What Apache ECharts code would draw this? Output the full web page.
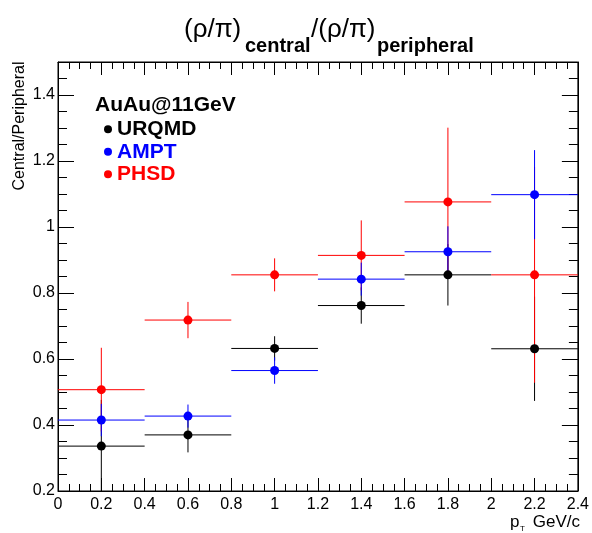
<!DOCTYPE html>
<html>
<head>
<meta charset="utf-8">
<script src="https://cdn.jsdelivr.net/npm/echarts@6/dist/echarts.min.js"></script>
<style>html,body{margin:0;padding:0;background:#fff;}#c{width:592px;height:533px;}</style>
</head>
<body>
<div id="c"></div>
<script>
// ---- data ----
const ptBins = [0.2, 0.6, 1.0, 1.4, 1.8, 2.2];
const ptHalfWidth = [0.2, 0.2, 0.2, 0.2, 0.2, 0.2];
const urqmdVals = [0.336, 0.370, 0.632, 0.762, 0.855, 0.631];
const urqmdErr  = [0.140, 0.053, 0.037, 0.055, 0.093, 0.158];
const amptVals  = [0.415, 0.427, 0.565, 0.842, 0.925, 1.098];
const amptErr   = [0.049, 0.035, 0.040, 0.050, 0.077, 0.135];
const phsdVals  = [0.507, 0.718, 0.855, 0.914, 1.076, 0.855];
const phsdErr   = [0.127, 0.055, 0.050, 0.106, 0.225, 0.327];
const xTicks = [0, 0.2, 0.4, 0.6, 0.8, 1, 1.2, 1.4, 1.6, 1.8, 2, 2.2, 2.4];
const yTicks = [0.2, 0.4, 0.6, 0.8, 1, 1.2, 1.4];

const FONT = '"Liberation Sans", Arial, Helvetica, sans-serif';
const models = [
  {name: 'URQMD', color: '#000000', vals: urqmdVals, err: urqmdErr},
  {name: 'PHSD',  color: '#ff0000', vals: phsdVals,  err: phsdErr},
  {name: 'AMPT',  color: '#0000ff', vals: amptVals,  err: amptErr}
];

function errSeries(m, idx) {
  const data = ptBins.map((x, i) => [x, m.vals[i], ptHalfWidth[i], m.err[i]]);
  return {
    type: 'custom', name: m.name + ' err', xAxisIndex: 0, yAxisIndex: 0,
    z: 2 + idx, silent: true, clip: true,
    renderItem: function (params, api) {
      const x = api.value(0), y = api.value(1), ex = api.value(2), ey = api.value(3);
      const l = api.coord([x - ex, y]), r = api.coord([x + ex, y]);
      const t = api.coord([x, y + ey]), b = api.coord([x, y - ey]);
      const st = {stroke: m.color, lineWidth: 1};
      return {type: 'group', children: [
        {type: 'line', shape: {x1: l[0], y1: l[1], x2: r[0], y2: r[1]}, style: st},
        {type: 'line', shape: {x1: t[0], y1: t[1], x2: b[0], y2: b[1]}, style: st}
      ]};
    },
    data: data
  };
}
function markSeries(m) {
  return {
    type: 'scatter', name: m.name, xAxisIndex: 0, yAxisIndex: 0, z: 10,
    symbol: 'circle', symbolSize: 9, itemStyle: {color: m.color, opacity: 1},
    data: ptBins.map((x, i) => [x, m.vals[i]])
  };
}

const series = [];
models.forEach((m, i) => series.push(errSeries(m, i)));
models.forEach(m => series.push(markSeries(m)));

const axLine = {show: true, lineStyle: {color: '#000', width: 1}};
const xBase = {type: 'value', min: 0, max: 2.4, interval: 0.2, splitLine: {show: false}};
const yBase = {type: 'value', min: 0.2, max: 1.5, splitLine: {show: false}};

const option = {
  animation: false,
  backgroundColor: '#fff',
  grid: {left: 58, right: 14, top: 62, bottom: 42, show: true, borderColor: '#000', borderWidth: 1},
  xAxis: [
    Object.assign({}, xBase, {position: 'bottom', axisLine: axLine,
      axisTick: {inside: true, length: 13, lineStyle: {color: '#000'}},
      minorTick: {show: true, splitNumber: 4, length: 7, lineStyle: {color: '#000'}},
      axisLabel: {margin: 6, fontSize: 16, fontFamily: FONT, color: '#000',
        formatter: v => { const k = xTicks.find(t => Math.abs(t - v) < 1e-6); return k === undefined ? '' : String(k); }}}),
    Object.assign({}, xBase, {position: 'top', axisLine: axLine,
      axisTick: {inside: true, length: 13, lineStyle: {color: '#000'}},
      minorTick: {show: true, splitNumber: 4, length: 7, lineStyle: {color: '#000'}},
      axisLabel: {show: false}})
  ],
  yAxis: [
    Object.assign({}, yBase, {position: 'left', interval: 0.2, axisLine: axLine,
      axisTick: {inside: true, length: 16, lineStyle: {color: '#000'}},
      axisLabel: {margin: 3, fontSize: 16, fontFamily: FONT, color: '#000',
        formatter: v => { const k = yTicks.find(t => Math.abs(t - v) < 1e-6); return k === undefined ? '' : String(k); }}}),
    Object.assign({}, yBase, {position: 'left', interval: 0.05, axisLine: {show: false},
      axisTick: {inside: true, length: 9, lineStyle: {color: '#000'}}, axisLabel: {show: false}}),
    Object.assign({}, yBase, {position: 'right', interval: 0.2, axisLine: axLine,
      axisTick: {inside: true, length: 16, lineStyle: {color: '#000'}}, axisLabel: {show: false}}),
    Object.assign({}, yBase, {position: 'right', interval: 0.05, axisLine: {show: false},
      axisTick: {inside: true, length: 9, lineStyle: {color: '#000'}}, axisLabel: {show: false}})
  ],
  legend: {
    orient: 'vertical', left: 99, top: 113, itemWidth: 8, itemHeight: 8, itemGap: 0,
    icon: 'circle', selectedMode: false,
    textStyle: {fontSize: 21, lineHeight: 22.5, fontWeight: 'bold', fontFamily: FONT},
    data: [
      {name: 'URQMD', textStyle: {color: '#000000'}},
      {name: 'AMPT', textStyle: {color: '#0000ff'}},
      {name: 'PHSD', textStyle: {color: '#ff0000'}}
    ]
  },
  graphic: [
    {type: 'text', x: 184, y: 30, style: {text: '(ρ/π)', font: '26px ' + FONT, fill: '#000', textAlign: 'left', textVerticalAlign: 'middle'}},
    {type: 'text', x: 245, y: 46, style: {text: 'central', font: 'bold 20px ' + FONT, fill: '#000', textAlign: 'left', textVerticalAlign: 'middle'}},
    {type: 'text', x: 311, y: 30, style: {text: '/(ρ/π)', font: '26px ' + FONT, fill: '#000', textAlign: 'left', textVerticalAlign: 'middle'}},
    {type: 'text', x: 377, y: 46, style: {text: 'peripheral', font: 'bold 20px ' + FONT, fill: '#000', textAlign: 'left', textVerticalAlign: 'middle'}},
    {type: 'text', x: 20, y: 126, rotation: Math.PI / 2, style: {text: 'Central/Peripheral', font: '16px ' + FONT, fill: '#000', textAlign: 'center', textVerticalAlign: 'middle'}},
    {type: 'text', x: 95, y: 105, style: {text: 'AuAu@11GeV', font: 'bold 21px ' + FONT, fill: '#000', textAlign: 'left', textVerticalAlign: 'middle'}},
    {type: 'text', x: 510, y: 522, style: {text: 'p', font: '17px ' + FONT, fill: '#000', textAlign: 'left', textVerticalAlign: 'middle'}},
    {type: 'text', x: 520, y: 529, style: {text: 'T', font: '8px ' + FONT, fill: '#000', textAlign: 'left', textVerticalAlign: 'middle'}},
    {type: 'text', x: 580, y: 522, style: {text: 'GeV/c', font: '17px ' + FONT, fill: '#000', textAlign: 'right', textVerticalAlign: 'middle'}}
  ],
  series: series
};

const chart = echarts.init(document.getElementById('c'), null, {renderer: 'canvas'});
chart.setOption(option);
</script>
</body>
</html>
